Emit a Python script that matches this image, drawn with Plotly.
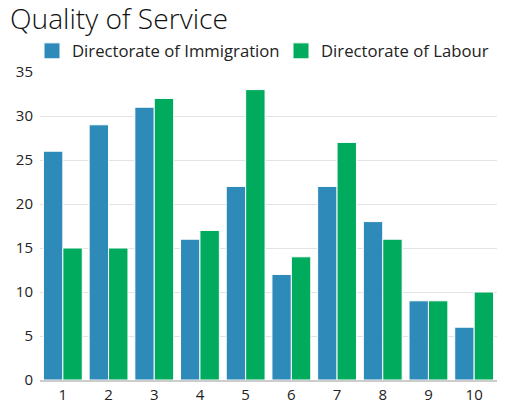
import plotly.graph_objects as go

categories = ["1", "2", "3", "4", "5", "6", "7", "8", "9", "10"]
immigration = [26, 29, 31, 16, 22, 12, 22, 18, 9, 6]
labour = [15, 15, 32, 17, 33, 14, 27, 16, 9, 10]
series_names = ["Directorate of Immigration", "Directorate of Labour"]
colors = ["#2E8AB9", "#00AB5E"]
y_ticks = [0, 5, 10, 15, 20, 25, 30, 35]

FONT = "Open Sans"
fig = go.Figure()
for vals, name, col in zip([immigration, labour], series_names, colors):
    fig.add_trace(go.Bar(x=categories, y=vals, name=name, showlegend=False,
                         marker=dict(color=col, line=dict(color="white", width=1))))
# legend proxies with larger square swatches, one legend each for exact placement
legend_x = [32, 281]
for i, (name, col) in enumerate(zip(series_names, colors)):
    fig.add_trace(go.Scatter(x=[None], y=[None], mode="markers", name=name,
                             legend="legend" if i == 0 else "legend2",
                             marker=dict(symbol="square", size=20, color=col,
                                         line=dict(color="white", width=1))))

leg_common = dict(orientation="h", xanchor="left", xref="container",
                  y=1-51/408, yanchor="middle", yref="container",
                  font=dict(size=16.7, color="#222222", family=FONT), itemsizing="trace",
                  bgcolor="rgba(0,0,0,0)")

fig.update_layout(
    width=506, height=408,
    margin=dict(l=40, r=9, t=72, b=28, autoexpand=False),
    paper_bgcolor="white", plot_bgcolor="white",
    font=dict(family=FONT, color="#222222", size=15),
    title=dict(text="Quality of Service",
               font=dict(size=28.2, color="#111111", family=FONT, weight=300),
               x=10/506, xanchor="left", xref="container",
               y=1-19/408, yanchor="middle", yref="container",
               pad=dict(l=0, t=0, b=0, r=0)),
    legend=dict(x=legend_x[0]/506, **leg_common),
    legend2=dict(x=legend_x[1]/506, **leg_common),
    barmode="group", bargap=0.15, bargroupgap=0.0,
    showlegend=True,
)
fig.update_xaxes(showline=True, linecolor="#cccccc", linewidth=2, ticks="",
                 tickfont=dict(size=15), showgrid=False, automargin=False)
fig.update_yaxes(range=[0, 35], tickvals=y_ticks, showgrid=True, gridcolor="#e3e3e3",
                 gridwidth=1, zeroline=False, ticks="", tickfont=dict(size=15),
                 automargin=False, ticklabelstandoff=6)

fig.write_html("out.html", config={"displayModeBar": False},
               post_script="document.body.style.margin='0';")
